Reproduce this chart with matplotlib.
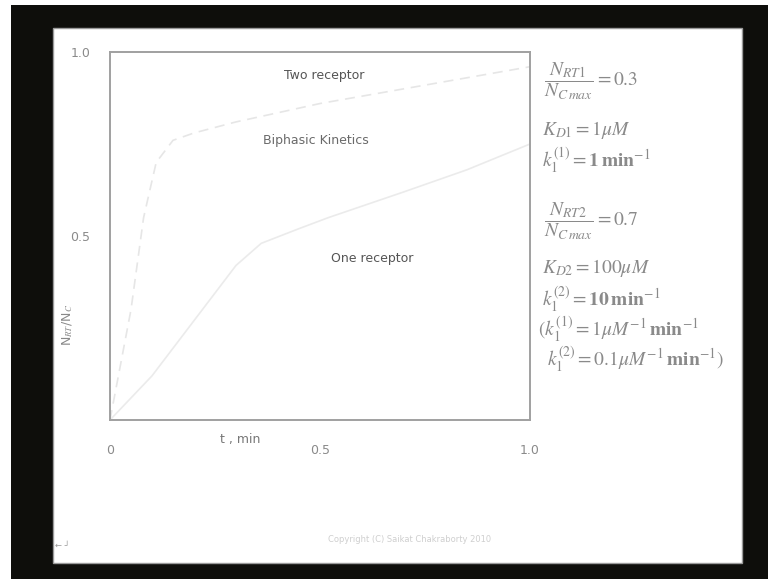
import numpy as np
import matplotlib.pyplot as plt
from matplotlib.patches import Rectangle

W, H = 768, 579

# courbes (t en min, fraction N_RT/N_C)
t_deux = [0.0, 0.02, 0.05, 0.08, 0.11, 0.15, 0.2, 0.3, 0.5, 0.7, 1.0]
y_deux = [0.0, 0.12, 0.30, 0.55, 0.70, 0.76, 0.78, 0.81, 0.86, 0.90, 0.96]
t_un = [0.0, 0.1, 0.2, 0.3, 0.36, 0.45, 0.52, 0.7, 0.85, 1.0]
y_un = [0.0, 0.12, 0.27, 0.42, 0.48, 0.52, 0.55, 0.62, 0.68, 0.75]

x_ticks = [0, 0.5, 1.0]
x_tick_labels = ["0", "0.5", "1.0"]
y_ticks = [0.5, 1.0]
y_tick_labels = ["0.5", "1.0"]

# parametres affiches a droite (texte, ligne y en pixels, x en pixels)
parametres = [
    (r"$\dfrac{N_{RT1}}{N_{C\,max}} = 0.3$", 81, 544),
    (r"$K_{D1} = 1\mu M$", 130, 542),
    (r"$k_1^{(1)} = \mathbf{1\,min}^{-1}$", 160, 542),
    (r"$\dfrac{N_{RT2}}{N_{C\,max}} = 0.7$", 221, 544),
    (r"$K_{D2} = 100\mu M$", 268, 542),
    (r"$k_1^{(2)} = \mathbf{10\,min}^{-1}$", 299, 542),
    (r"$(k_1^{(1)} = 1\mu M^{-1}\,\mathbf{min}^{-1}$", 329, 538),
    (r"$k_1^{(2)} = 0.1\mu M^{-1}\,\mathbf{min}^{-1})$", 359, 547),
]

plt.rcParams['mathtext.fontset'] = 'stix'

def px(x, y):
    return x / W, 1 - y / H

fig = plt.figure(figsize=(W / 100, H / 100), dpi=100, facecolor='#0e0e0b')

# bord blanc a gauche et en haut, puis la diapo
fig.patches.append(Rectangle((0, 0), 11 / W, 1, transform=fig.transFigure,
                             facecolor='white', edgecolor='none', zorder=-2))
fig.patches.append(Rectangle((0, 1 - 5 / H), 1, 5 / H, transform=fig.transFigure,
                             facecolor='white', edgecolor='none', zorder=-2))
x0, y0 = px(53, 563)
x1, y1 = px(742, 28)
fig.patches.append(Rectangle((x0, y0), x1 - x0, y1 - y0, transform=fig.transFigure,
                             facecolor='white', edgecolor='#9a9a9a', lw=1.0, zorder=-1))

ax = fig.add_axes([110 / W, 1 - 420 / H, 420 / W, 368 / H])
ax.set_zorder(1)
ax.set_facecolor('white')
ax.plot(t_deux, y_deux, color='#e6e6e6', lw=1.2, ls=(0, (6, 4)))
ax.plot(t_un, y_un, color='#ebebeb', lw=1.2)
ax.set_xlim(0, 1)
ax.set_ylim(0, 1)
for s in ax.spines.values():
    s.set_color('#a0a0a0')
    s.set_linewidth(1.4)
ax.set_xticks(x_ticks)
ax.set_xticklabels(x_tick_labels)
ax.set_yticks(y_ticks)
ax.set_yticklabels(y_tick_labels)
ax.tick_params(length=0, colors='#8a8a8a', labelsize=9)
ax.tick_params(axis='x', pad=17)
ax.tick_params(axis='y', pad=14)

ax.text(0.51, 0.935, "Two receptor", transform=ax.transAxes, ha='center', va='center',
        fontsize=9, color='#555555')
ax.text(0.49, 0.76, "Biphasic Kinetics", transform=ax.transAxes, ha='center', va='center',
        fontsize=9, color='#6a6a6a')
ax.text(0.625, 0.44, "One receptor", transform=ax.transAxes, ha='center', va='center',
        fontsize=9, color='#555555')

fig.text(*px(240, 440), "t , min", ha='center', va='center', fontsize=9, color='#777777')
fig.text(*px(68, 325), r"N$_{RT}$/N$_C$", ha='center', va='center', rotation=90,
         fontsize=9, color='#888888')

for texte, yy, xx in parametres:
    fig.text(*px(xx, yy), texte, ha='left', va='center', fontsize=14, color='#8a8a8a')

fig.text(*px(410, 540), "Copyright (C) Saikat Chakraborty 2010", ha='center', va='center',
         fontsize=6, color='#cfcfcf')
fig.text(*px(62, 546), "\u2190 \u2518", ha='center', va='center', fontsize=6, color='#999999')

fig.savefig("out.png", dpi=100, facecolor=fig.get_facecolor())
